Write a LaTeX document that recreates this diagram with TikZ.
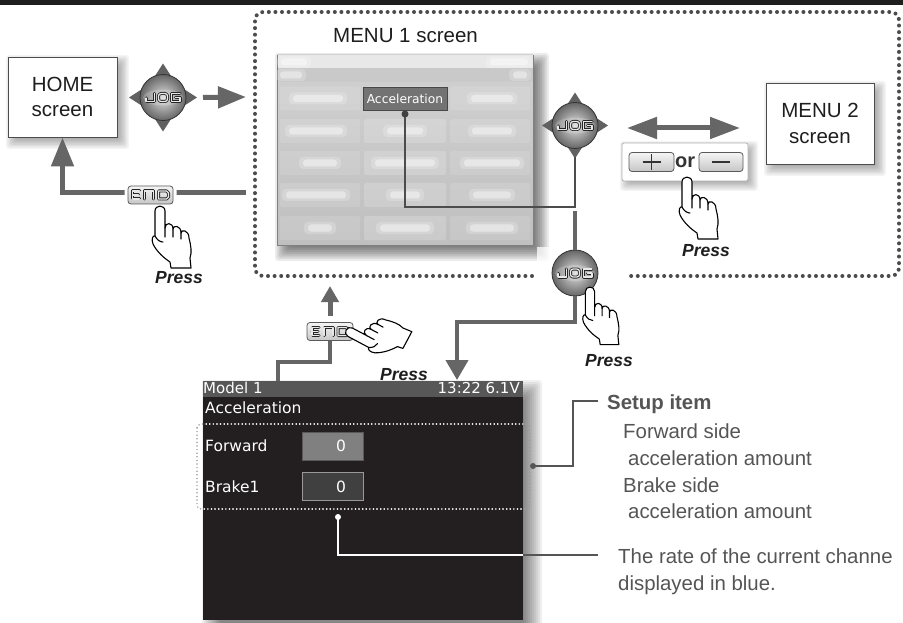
\documentclass[tikz,border=0pt]{standalone}
\usepackage{fontspec}
\setmainfont{Liberation Sans}
\newfontfamily\lcdfont{DejaVu Sans}
\usetikzlibrary{arrows.meta}

\definecolor{flowgray}{HTML}{666666}
\definecolor{dotgray}{HTML}{4C4C4C}
\definecolor{notegray}{HTML}{555555}
\definecolor{ink}{HTML}{1E1E1E}
\definecolor{lcdblack}{HTML}{231F20}
\definecolor{lcdbar}{HTML}{575757}

% blurred drop shadow: x1 y1 x2 y2 offset spread opacity
\newcommand\softshadow[7]{%
  \foreach \k in {0,...,9}{%
    \fill[black, fill opacity=#7, rounded corners=3pt]
      ({#1+#5-#6+\k*#6/5},{#2+#5-#6+\k*#6/5}) rectangle
      ({#3+#5+#6-\k*#6/5},{#4+#5+#6-\k*#6/5});
  }}

% outlined segment lettering used on the keys
\newcommand\segstroke[1]{%
  \draw[line width=3.0pt, draw=black!85, line cap=round, line join=round] #1;
  \draw[line width=1.3pt, draw=gray!18, line cap=round, line join=round] #1;}

\newcommand\jogletters[1]{%
  \begin{scope}[shift={(#1.center)}]
    \fill[white, fill opacity=0.18] (0,0) ellipse [x radius=20pt, y radius=8pt];
    \segstroke{(-17,0.5) -- (-17,4) -- (-8.5,4) -- (-8.5,-4)}
    \segstroke{(-4.5,-4) [rounded corners=2.5pt] -- (4.5,-4) -- (4.5,4) -- (-4.5,4) -- cycle}
    \segstroke{(17,-4) -- (8.5,-4) -- (8.5,4) -- (17,4) -- (17,0) -- (12.5,0)}
  \end{scope}}

\newcommand\keyletters[1]{%
  \begin{scope}[shift={(#1.center)}]
    \segstroke{(-11,-4) -- (-18,-4) -- (-18,4) -- (-11,4) (-18,0) -- (-12,0)}
    \segstroke{(-6,4) -- (-6,-4) -- (3,-4) -- (3,4)}
    \segstroke{(8,-4) -- (8,4) -- (16,4) -- (18,2) -- (18,-2) -- (16,-4) -- cycle}
  \end{scope}}

% four direction arrows of the jog key
\newcommand\dpad[2]{%
  \begin{scope}[shift={(#1)}]
    \fill[black!62] (0,-#2) -- (-9,-#2+14) -- (9,-#2+14) -- cycle;
    \fill[black!62] (0,#2) -- (-9,#2-14) -- (9,#2-14) -- cycle;
    \fill[black!62] (-#2,0) -- (-#2+14,-9) -- (-#2+14,9) -- cycle;
    \fill[black!62] (#2,0) -- (#2-14,-9) -- (#2-14,9) -- cycle;
  \end{scope}}

% pointing hand, fingertip at the origin, finger pointing up
\newcommand\drawhand{%
  \draw[handline] (-5,30) -- (-5,5) .. controls (-5,-1.5) and (5,-1.5) .. (5,5) -- (5,22)
    .. controls (5,16) and (13,16) .. (13,23)
    .. controls (13,19) and (21,19) .. (21,27)
    .. controls (21,23) and (29,24) .. (29,32)
    .. controls (31,40) and (32,46) .. (30,52)
    -- (31,62) -- (11,62) -- (10,56)
    .. controls (4,52) and (-3,46) .. (-7,38)
    .. controls (-9,33) and (-7,29) .. (-5,30) -- cycle;
  \draw[handline] (5,22) -- (5,31) (13,23) -- (13,31) (21,27) -- (21,33)
    (-5,30) .. controls (-3,34) and (0,36) .. (3,36);}

% blurred label stand-in on the greyed-out menu screenshot
\newcommand\blurbar[3]{%
  \fill[white, fill opacity=0.2, rounded corners=4pt] ({#1-#3/2-4},{#2-6}) rectangle ({#1+#3/2+4},{#2+6});
  \fill[white, fill opacity=0.4, rounded corners=3pt] ({#1-#3/2},{#2-3.5}) rectangle ({#1+#3/2},{#2+3.5});}

\tikzset{
  flowline/.style={line width=5pt, draw=flowgray},
  flowthin/.style={line width=4pt, draw=flowgray},
  bighead/.style={-{Triangle[length=28pt,width=21pt]}},
  midhead/.style={-{Triangle[length=20pt,width=22pt]}},
  smallhead/.style={-{Triangle[length=16pt,width=17pt]}},
  linkline/.style={line width=1.8pt, draw=black!70},
  notelink/.style={line width=1.4pt, draw=notegray},
  screenbox/.style={draw=black!70, fill=white, line width=0.9pt, inner sep=0,
    align=center, font=\fontsize{20.5}{25.5}\selectfont, text=ink},
  keycap/.style={rounded corners=3pt, draw=black!65, top color=gray!8, bottom color=gray!45,
    line width=0.8pt, inner sep=0},
  haloed/.style={preaction={draw=white, line width=7pt}},
  jogball/.style={circle, minimum size=46pt, inner sep=0, draw=black!80, line width=0.8pt,
    inner color=gray!25, outer color=black!60},
  presstext/.style={font=\fontsize{17.5}{20}\selectfont\bfseries\itshape, anchor=base west,
    inner sep=0, text=ink},
  note/.style={font=\fontsize{20.4}{24}\selectfont, text=notegray, anchor=base west, inner sep=0},
  lcdtext/.style={font=\lcdfont\fontsize{15.5}{18}\selectfont, text=white, anchor=base west, inner sep=0},
  handline/.style={draw=black, fill=white, line width=1.1pt, line join=round, line cap=round},
  dotframe/.style={draw=dotgray, line width=4pt, line cap=round, dash pattern=on 0pt off 6.6pt},
  finedots/.style={line width=1.7pt, line cap=round, dash pattern=on 0pt off 3.6pt},
}

\begin{document}
\begin{tikzpicture}[x=1pt, y=-1pt]
\useasboundingbox (0,0) rectangle (903,623);
\fill[white] (0,0) rectangle (903,623);
\fill[ink] (0,0) rectangle (903,5.5);

% ---------- shadows ----------
\softshadow{8}{57}{117}{137}{5}{7}{0.045}
\softshadow{766}{83}{874}{164}{5}{7}{0.045}
\softshadow{277}{55}{533}{245}{7}{9}{0.075}
\softshadow{622}{143}{748}{181}{4}{6}{0.04}
\softshadow{203}{381}{523}{640}{9}{10}{0.06}
\fill[white, fill opacity=0.75] (537,247) rectangle (578,276);

% ---------- MENU 1 area frame ----------
\draw[dotframe, rounded corners=8pt] (532,276) -- (255,276) -- (255,12) -- (899,12) -- (899,276) -- (625,276);

% ---------- screens ----------
\node[screenbox, minimum width=109pt, minimum height=80pt] (home) at (62.5,97) {HOME\\screen};
\node[screenbox, minimum width=108pt, minimum height=81pt] (menu2) at (820,123.5) {MENU 2\\screen};
\node[font=\fontsize{20.5}{24}\selectfont, text=ink, anchor=base west, inner sep=0] (menu1title) at (333,43) {MENU 1 screen};

% greyed-out MENU 1 screenshot
\node[draw=black!50, line width=0.8pt, top color=gray!36, bottom color=gray!50,
  minimum width=256pt, minimum height=190pt, inner sep=0] (menushot) at (405,150) {};
\fill[gray!18] (277.5,55.5) rectangle (532.5,68.5);
\fill[gray!42] (277.5,68.5) rectangle (532.5,82);
\blurbar{294}{62}{26}
\blurbar{509}{62}{38}
\blurbar{291}{75}{22}
\blurbar{520}{75}{14}
\foreach \yy in {98.5,131,163,195,228}{
  \fill[white, fill opacity=0.12, rounded corners=2pt] (280,{\yy-12}) rectangle (360,{\yy+12});
  \fill[white, fill opacity=0.18, rounded corners=2pt] (364,{\yy-12}) rectangle (446,{\yy+12});
  \fill[white, fill opacity=0.12, rounded corners=2pt] (450,{\yy-12}) rectangle (530,{\yy+12});
}
\blurbar{318}{98.5}{50} \blurbar{492}{98.5}{42}
\blurbar{316}{131}{54} \blurbar{405}{131}{36} \blurbar{492}{131}{40}
\blurbar{320}{163}{34} \blurbar{405}{163}{60} \blurbar{492}{163}{56}
\blurbar{316}{195}{60} \blurbar{405}{195}{30} \blurbar{492}{195}{38}
\blurbar{320}{228}{24} \blurbar{405}{228}{50} \blurbar{492}{228}{44}
\node[fill=black!55, draw=black!72, line width=0.6pt, text=white,
  font=\lcdfont\fontsize{12.3}{14}\selectfont, minimum width=84pt, minimum height=23pt,
  inner sep=0] (accbtn) at (405,98.5) {Acceleration};

% ---------- keys and jog buttons ----------
\coordinate (padA) at (163,97.5);
\coordinate (padB) at (575,125.5);
\dpad{padA}{34}
\dpad{padB}{33}
\node[jogball] (jogA) at (padA) {};
\node[jogball] (jogB) at (padB) {};
\node[jogball] (jogC) at (575,273) {};
\jogletters{jogA}
\jogletters{jogB}
\jogletters{jogC}

% ---------- connectors ----------
\coordinate (frameIn) at (246,97);
\coordinate (frameOut) at (246,193);
\draw[flowline, bighead] ([xshift=17pt]jogA.center) ++(23,0) -- (frameIn);
\draw[flowline, {Triangle[length=29pt,width=22pt]}-] (home.south) |- (frameOut);

% link from the Acceleration item through the jog key
\coordinate (accdot) at (405,114);
\coordinate (linkcorner) at (575,207);
\draw[linkline] (accdot) |- (linkcorner) -- ([yshift=-8pt]jogB.south);
\fill[black!75] (accdot) circle (3.5pt);
\coordinate (linkdrop) at (575,211);
\draw[flowthin] (linkdrop) -- (jogC.north);

% +/- selector
\draw[flowline, {Triangle[length=30pt,width=21pt]}-{Triangle[length=30pt,width=21pt]}] (627,128) -- (740,128);
\node[draw=gray!60, fill=white, line width=0.8pt, rounded corners=2pt, minimum width=126pt,
  minimum height=38pt, inner sep=0] (pmpanel) at (685,162) {};
\node[keycap, minimum width=45pt, minimum height=19pt] (pluskey) at (651.5,162) {};
\node[keycap, minimum width=44pt, minimum height=19pt] (minuskey) at (721,162) {};
\draw[line width=1.5pt, draw=black!80] ([xshift=-9pt]pluskey.center) -- ([xshift=9pt]pluskey.center)
  ([yshift=-8pt]pluskey.center) -- ([yshift=8pt]pluskey.center);
\draw[line width=1.5pt, draw=black!80] ([xshift=-9pt]minuskey.center) -- ([xshift=9pt]minuskey.center);
\node[font=\fontsize{20}{24}\selectfont\bfseries, text=black!80, anchor=base west, inner sep=0] (ortext) at (675,168) {or};

% END keys
\node[keycap, haloed, minimum width=45pt, minimum height=18pt] (endA) at (150.5,195) {};
\keyletters{endA}

\coordinate (frameS) at (330,286);
\coordinate (lcdin) at (278,382);
\coordinate (lcdarrow) at (457,380);
\draw[flowline, smallhead] (330,316) -- (frameS);
\node[keycap, minimum width=46pt, minimum height=18pt] (endB) at (330,331.5) {};
\keyletters{endB}
\draw[flowthin] (endB.south) -- ++(0,21) -| (lcdin);
\draw[flowthin, midhead] (jogC.south) -- ++(0,26) -| (lcdarrow);

% ---------- detail screen ----------
\node[fill=lcdblack, minimum width=320pt, minimum height=239pt, inner sep=0] (lcd) at (363,500.5) {};
\fill[lcdbar] (203,381) rectangle (523,397);
\node[lcdtext, font=\lcdfont\fontsize{15}{17}\selectfont] (lcdmodel) at (203,393.5) {Model 1};
\node[lcdtext, font=\lcdfont\fontsize{15}{17}\selectfont, anchor=base east] (lcdclock) at (520,393.5) {13:22 6.1V};
\node[lcdtext] (lcdhead) at (205,413) {Acceleration};
\node[lcdtext] (lblfwd) at (205,451) {Forward};
\node[lcdtext] (lblbrk) at (205,492.5) {Brake1};
\node[fill=black!50, draw=black!65, line width=0.8pt, minimum width=61pt, minimum height=28pt, inner sep=0] (boxfwd) at (332.5,446) {};
\node[fill=black!75, draw=black!40, line width=1pt, minimum width=61pt, minimum height=28pt, inner sep=0] (boxbrk) at (332.5,486) {};
\node[lcdtext, anchor=base] (valfwd) at (341,451.5) {0};
\node[lcdtext, anchor=base] (valbrk) at (341,492.5) {0};

% dotted outline round the setup items
\draw[finedots, draw=gray!75, rounded corners=4pt] (197,424) rectangle (530,509);
\begin{scope}
  \clip (203,381) rectangle (523,620);
  \draw[finedots, draw=white, rounded corners=4pt] (197,424) rectangle (530,509);
\end{scope}

% callouts
\coordinate (setupdot) at (533,466);
\coordinate (ratedot) at (338,517);
\coordinate (setupend) at (598,401);
\coordinate (rateend) at (598,555);
\fill[notegray] (setupdot) circle (3pt);
\draw[notelink] (setupdot) -- (573,466) |- (setupend);
\fill[white] (ratedot) circle (3pt);
\draw[line width=1.4pt, draw=white] (ratedot) |- (523,555);
\draw[notelink] (523,555) -- (rateend);

\node[note, font=\fontsize{20.4}{24}\selectfont\bfseries] (setuphead) at (607,409) {Setup item};
\node[note] (fwdline1) at (623,438) {Forward side};
\node[note] (fwdline2) at (628,465) {acceleration amount};
\node[note] (brkline1) at (623,492) {Brake side};
\node[note] (brkline2) at (628,518) {acceleration amount};
\node[note] (rateline1) at (618,563) {The rate of the current channe};
\node[note] (rateline2) at (618,590) {displayed in blue.};

% ---------- hands ----------
\begin{scope}[shift={(160,206)}] \drawhand \end{scope}
\begin{scope}[shift={(687,177)}] \drawhand \end{scope}
\begin{scope}[shift={(590,287)}, scale=0.93] \drawhand \end{scope}
\begin{scope}[shift={(346,330)}, rotate=62, scale=0.95] \drawhand \end{scope}

\node[presstext] (press1) at (155,283) {Press};
\node[presstext] (press2) at (682,256) {Press};
\node[presstext] (press3) at (585,366) {Press};
\node[presstext] (press4) at (380,380) {Press};
\end{tikzpicture}
\end{document}
